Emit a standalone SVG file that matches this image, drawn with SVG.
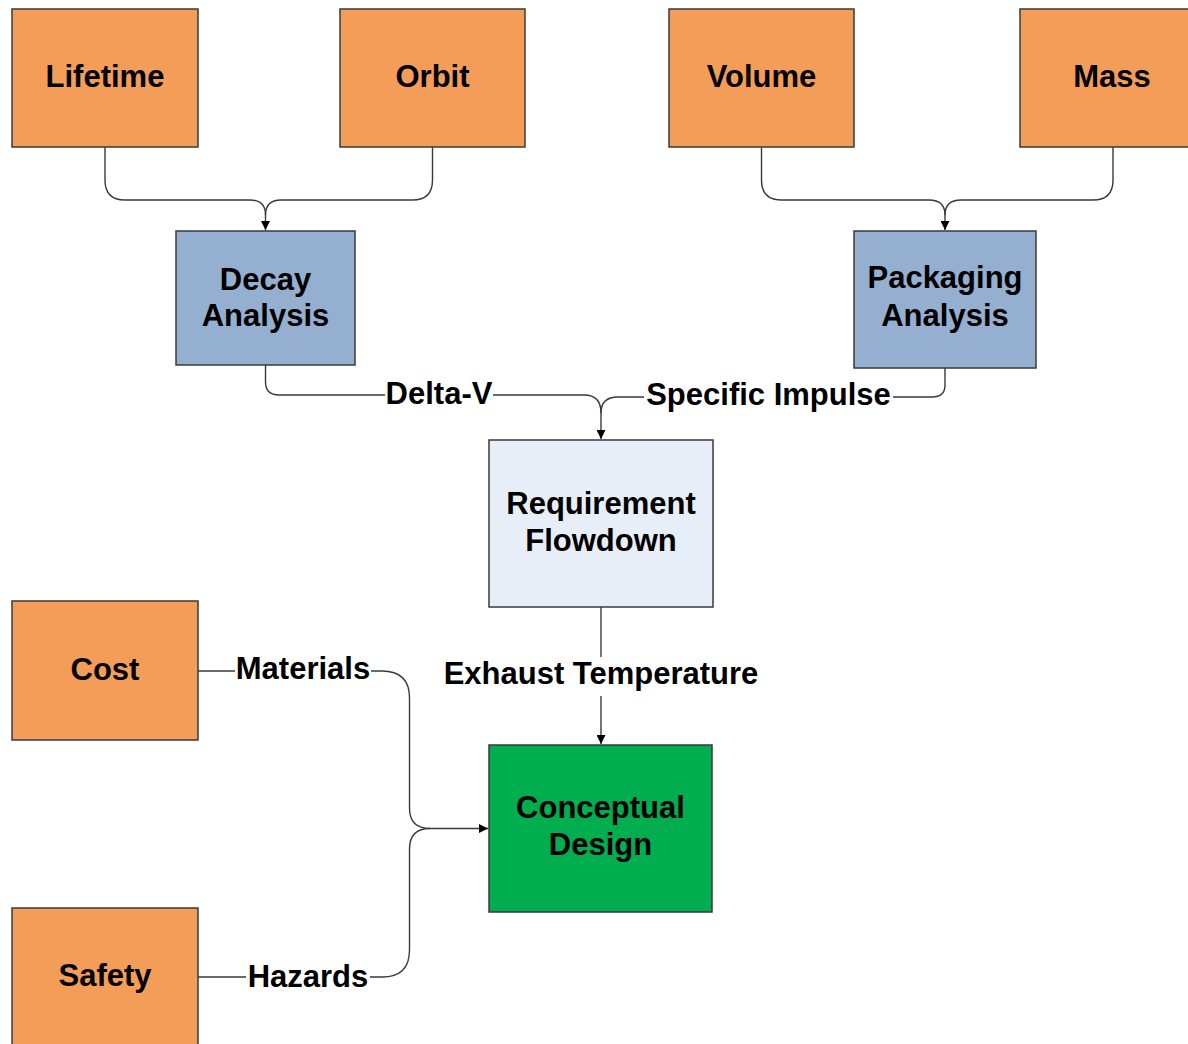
<svg xmlns="http://www.w3.org/2000/svg" width="1188" height="1044" viewBox="0 0 1188 1044">
<style>
.box{stroke:#3a3a3a;stroke-width:1.5}
.or{fill:#F49D58}
.bl{fill:#94AFD0}
.lt{fill:#E8EEF8}
.gr{fill:#00AE4F}
text{font-family:"Liberation Sans",Arial,sans-serif;font-weight:bold;font-size:31px;fill:#000;text-anchor:middle}
.c{fill:none;stroke:#3a3a3a;stroke-width:1.4}
.lb{fill:#fff}
</style>
<defs>
<marker id="ah" viewBox="0 0 10 10" refX="10" refY="5" markerWidth="9" markerHeight="9" markerUnits="userSpaceOnUse" orient="auto">
<path d="M0,0 L10,5 L0,10 Z" fill="#000"/>
</marker>
</defs>
<rect width="1188" height="1044" fill="#fff"/>
<g id="connectors">
<path class="c" d="M105,147 V180 Q105,200 125,200 H250 Q265.5,200 265.5,215 V230" marker-end="url(#ah)"/>
<path class="c" d="M432.5,147 V180 Q432.5,200 412.5,200 H281 Q265.5,200 265.5,215"/>
<path class="c" d="M761.5,147 V180 Q761.5,200 781.5,200 H929 Q945,200 945,215 V230" marker-end="url(#ah)"/>
<path class="c" d="M1113,147 V180 Q1113,200 1093,200 H961 Q945,200 945,215"/>
<path class="c" d="M265.5,365 V382 Q265.5,395 279,395 H584 Q601,395 601,413 V439" marker-end="url(#ah)"/>
<path class="c" d="M945,368 V385 Q945,397 932,397 H618 Q601,397 601,413"/>
<path class="c" d="M601,607 V744" marker-end="url(#ah)"/>
<path class="c" d="M198,671 H382 Q409.5,671 409.5,698 V808 Q409.5,828.5 430,828.5 H488" marker-end="url(#ah)"/>
<path class="c" d="M198,977 H382 Q409.5,977 409.5,950 V849 Q409.5,828.5 430,828.5"/>
<rect class="lb" x="385" y="380" width="108" height="30"/>
<text x="439" y="404">Delta-V</text>
<rect class="lb" x="644" y="380" width="249" height="30"/>
<text x="768.5" y="405">Specific Impulse</text>
<rect class="lb" x="438" y="657" width="326" height="39"/>
<text x="601" y="684">Exhaust Temperature</text>
<rect class="lb" x="235" y="655" width="136" height="30"/>
<text x="303" y="679">Materials</text>
<rect class="lb" x="246" y="961" width="124" height="30"/>
<text x="308" y="987">Hazards</text>
</g>
<g id="lifetime"><rect class="box or" x="12" y="9" width="186" height="138"/><text x="105" y="87">Lifetime</text></g>
<g id="orbit"><rect class="box or" x="340" y="9" width="185" height="138"/><text x="432.5" y="87">Orbit</text></g>
<g id="volume"><rect class="box or" x="669" y="9" width="185" height="138"/><text x="761.5" y="87">Volume</text></g>
<g id="mass"><rect class="box or" x="1020" y="9" width="186" height="138"/><text x="1112" y="87">Mass</text></g>
<g id="decay"><rect class="box bl" x="176" y="231" width="179" height="134"/><text x="265.5" y="290">Decay</text><text x="265.5" y="326">Analysis</text></g>
<g id="packaging"><rect class="box bl" x="854" y="231" width="182" height="137"/><text x="945" y="288">Packaging</text><text x="945" y="326">Analysis</text></g>
<g id="requirement"><rect class="box lt" x="489" y="440" width="224" height="167"/><text x="601" y="514">Requirement</text><text x="601" y="551">Flowdown</text></g>
<g id="conceptual"><rect class="box gr" x="489" y="745" width="223" height="167"/><text x="600.5" y="818">Conceptual</text><text x="600.5" y="855">Design</text></g>
<g id="cost"><rect class="box or" x="12" y="601" width="186" height="139"/><text x="105" y="680">Cost</text></g>
<g id="safety"><rect class="box or" x="12" y="908" width="186" height="140"/><text x="105" y="986">Safety</text></g>
</svg>
